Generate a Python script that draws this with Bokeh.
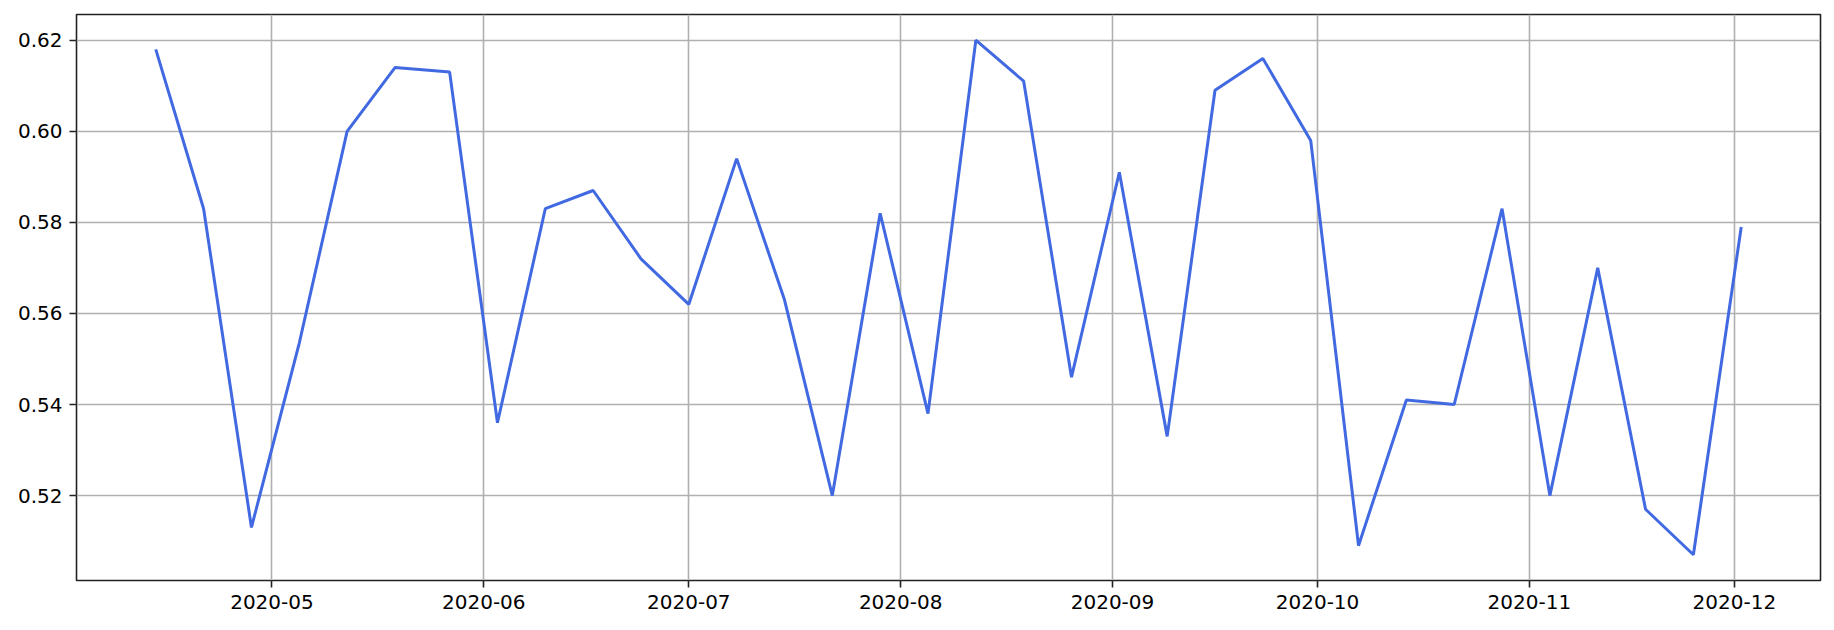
from datetime import datetime
from bokeh.plotting import figure
from bokeh.models import Range1d, FixedTicker, DatetimeTickFormatter, PrintfTickFormatter, ColumnDataSource
from bokeh.embed import file_html
from bokeh.resources import INLINE

dates = ["2020-04-14", "2020-04-21", "2020-04-28", "2020-05-05", "2020-05-12", "2020-05-19",
         "2020-05-27", "2020-06-03", "2020-06-10", "2020-06-17", "2020-06-24", "2020-07-01",
         "2020-07-08", "2020-07-15", "2020-07-22", "2020-07-29", "2020-08-05", "2020-08-12",
         "2020-08-19", "2020-08-26", "2020-09-02", "2020-09-09", "2020-09-16", "2020-09-23",
         "2020-09-30", "2020-10-07", "2020-10-14", "2020-10-21", "2020-10-28", "2020-11-04",
         "2020-11-11", "2020-11-18", "2020-11-25", "2020-12-02"]
values = [0.618, 0.583, 0.513, 0.5535, 0.600, 0.614,
          0.613, 0.536, 0.583, 0.587, 0.572, 0.562,
          0.594, 0.563, 0.520, 0.582, 0.538, 0.620,
          0.611, 0.546, 0.591, 0.533, 0.609, 0.616,
          0.598, 0.509, 0.541, 0.540, 0.583, 0.520,
          0.570, 0.517, 0.507, 0.579]
month_ticks = ["2020-05-01", "2020-06-01", "2020-07-01", "2020-08-01",
               "2020-09-01", "2020-10-01", "2020-11-01", "2020-12-01"]
y_ticks = [0.52, 0.54, 0.56, 0.58, 0.60, 0.62]

xs = [datetime.strptime(d, "%Y-%m-%d") for d in dates]
epoch = datetime(1970, 1, 1)
def ms(dt):
    return (dt - epoch).total_seconds() * 1000.0

xmin, xmax = ms(min(xs)), ms(max(xs))
xpad = 0.05 * (xmax - xmin)
ymin, ymax = min(values), max(values)
ypad = 0.05 * (ymax - ymin)

src = ColumnDataSource(data=dict(x=xs, y=values))

p = figure(width=1826, height=622, x_axis_type="datetime",
           output_backend="svg", toolbar_location=None,
           x_range=Range1d(xmin - xpad, xmax + xpad),
           y_range=Range1d(ymin - ypad, ymax + ypad),
           min_border_left=76, min_border_right=6, min_border_top=14, min_border_bottom=42)

p.line("x", "y", source=src, line_color="royalblue", line_width=3)

p.xaxis.ticker = FixedTicker(ticks=[ms(datetime.strptime(t, "%Y-%m-%d")) for t in month_ticks])
fmt = "%Y-%m"
p.xaxis.formatter = DatetimeTickFormatter(milliseconds=fmt, seconds=fmt, minsec=fmt, minutes=fmt,
                                          hourmin=fmt, hours=fmt, days=fmt, months=fmt, years=fmt)
p.yaxis.ticker = FixedTicker(ticks=y_ticks)
p.yaxis.formatter = PrintfTickFormatter(format="%.2f")

for ax in (p.xaxis, p.yaxis):
    ax.axis_line_color = None
    ax.major_tick_in = 0
    ax.major_tick_out = 7
    ax.major_tick_line_width = 1.6
    ax.major_tick_line_color = "#222222"
    ax.minor_tick_line_color = None
    ax.major_label_text_font = "DejaVu Sans"
    ax.major_label_text_font_size = "20px"
    ax.major_label_text_color = "black"
    ax.major_label_standoff = 7

p.outline_line_color = "#222222"
p.outline_line_width = 1.6
p.outline_line_alpha = 1.0

p.xgrid.ticker = p.xaxis.ticker
p.ygrid.ticker = p.yaxis.ticker
p.grid.grid_line_color = "#b0b0b0"
p.grid.grid_line_width = 1.6

p.background_fill_color = "white"
p.border_fill_color = "white"

open("out.html", "w").write(file_html(p, INLINE))
